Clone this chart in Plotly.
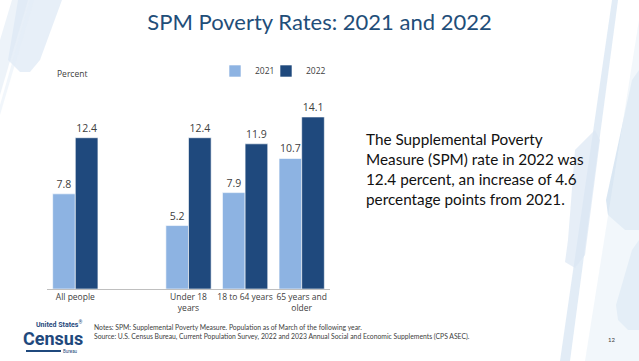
import plotly.graph_objects as go

categories = ["All people", " ", "Under 18<br>years", "18 to 64 years", "65 years and<br>older"]
rates_2021 = [7.8, None, 5.2, 7.9, 10.7]
rates_2022 = [12.4, None, 12.4, 11.9, 14.1]
series_names = ["2021", "2022"]

W, H = 639, 361
L, R, T, B = 47, 309, 100, 72
PW, PH = W - L - R, H - T - B

def px(x):
    return (x - L) / PW

def py(y):
    return 1 - (y - T) / PH

LIGHT = "#8db3e2"
DARK = "#1f497d"
TXT = "#404040"

fig = go.Figure()
for name, vals, col, lg in [(series_names[0], rates_2021, LIGHT, "legend"),
                            (series_names[1], rates_2022, DARK, "legend2")]:
    fig.add_trace(go.Bar(
        x=categories, y=vals, name=name, legend=lg,
        marker=dict(color=col, line=dict(color="white", width=0.6)),
        text=[("" if v is None else f"{v:.1f}") for v in vals],
        textposition="outside", cliponaxis=False,
        textfont=dict(family="Open Sans, Lato, sans-serif", size=10.5, color=TXT),
    ))

shapes = []
def poly(pts, color, opacity):
    d = "M " + " L ".join(f"{px(x):.4f},{py(y):.4f}" for x, y in pts) + " Z"
    shapes.append(dict(type="path", xref="paper", yref="paper", path=d,
                       fillcolor=color, opacity=opacity, line=dict(width=0), layer="below"))

# decorative diagonal bands (background)
poly([(18, 0), (62, 0), (40, 60), (30, 72), (20, 72), (8, 60)], "#c9dcef", 0.45)
poly([(0, 40), (12, 0), (28, 0), (0, 95)], "#dbe7f4", 0.5)
poly([(0, 105), (30, 0), (34, 0), (0, 115)], "#e3edf7", 0.5)
poly([(639, 70), (639, 230), (625, 230), (608, 215), (606, 200), (632, 80)], "#bcd3ea", 0.55)
poly([(639, 240), (639, 330), (628, 330), (618, 320), (616, 305), (632, 250)], "#bcd3ea", 0.5)
poly([(612, 0), (618, 0), (570, 361), (560, 361)], "#dbe7f4", 0.8)
poly([(639, 20), (639, 361), (585, 361)], "#eaf1f9", 0.6)
poly([(575, 150), (595, 130), (600, 140), (585, 255), (575, 268), (565, 262), (568, 240)], "#dbe7f4", 0.7)

annotations = [
    dict(x=px(55), y=py(73), xref="paper", yref="paper", text="Percent", showarrow=False,
         xanchor="left", yanchor="middle", font=dict(family="Open Sans, Lato, sans-serif", size=8.5, color=TXT)),
    dict(x=px(364), y=py(169), xref="paper", yref="paper",
         text="The Supplemental Poverty<br>Measure (SPM) rate in 2022 was<br>12.4 percent, an increase of 4.6<br>percentage points from 2021.",
         showarrow=False, xanchor="left", yanchor="middle", align="left",
         font=dict(family="Lato, Open Sans, sans-serif", size=15.3, color="#111111")),
    dict(x=px(92), y=py(332), xref="paper", yref="paper",
         text="Notes: SPM: Supplemental Poverty Measure. Population as of March of the following year.<br>Source: U.S. Census Bureau, Current Population Survey, 2022 and 2023 Annual Social and Economic Supplements (CPS ASEC).",
         showarrow=False, xanchor="left", yanchor="middle", align="left",
         font=dict(family="Lato, Open Sans, sans-serif", size=6.8, color=TXT)),
    dict(x=px(59), y=py(324), xref="paper", yref="paper", text="<b>United States</b><sup>®</sup>",
         showarrow=False, xanchor="center", yanchor="middle",
         font=dict(family="Liberation Sans Narrow, Roboto, sans-serif", size=7, color=DARK)),
    dict(x=px(53), y=py(338), xref="paper", yref="paper", text="<b>Census</b>",
         showarrow=False, xanchor="center", yanchor="middle",
         font=dict(family="Liberation Sans Narrow, Roboto, sans-serif", size=18, color=DARK)),
    dict(x=px(70), y=py(351), xref="paper", yref="paper", text="Bureau",
         showarrow=False, xanchor="center", yanchor="middle",
         font=dict(family="Roboto, sans-serif", size=4.5, color=DARK)),
    dict(x=px(611), y=py(339), xref="paper", yref="paper", text="12",
         showarrow=False, xanchor="center", yanchor="middle",
         font=dict(family="Lato, sans-serif", size=6, color=TXT)),
]
shapes.append(dict(type="line", xref="paper", yref="paper", x0=px(26), x1=px(61), y0=py(351), y1=py(351),
                   line=dict(color=DARK, width=2)))

legend_style = dict(orientation="h", yanchor="middle", xanchor="left",
                    font=dict(family="Open Sans, Lato, sans-serif", size=8.5, color=TXT),
                    bgcolor="rgba(0,0,0,0)", itemwidth=30)

fig.update_layout(
    width=W, height=H,
    margin=dict(l=L, r=R, t=T, b=B, pad=0),
    paper_bgcolor="white", plot_bgcolor="rgba(0,0,0,0)",
    barmode="group", bargap=0.2, bargroupgap=0,
    title=dict(text="SPM Poverty Rates: 2021 and 2022", x=0.5, xanchor="center",
               y=1 - 22 / H, yanchor="middle",
               font=dict(family="Lato, Open Sans, sans-serif", size=22, color="#1f4e79")),
    xaxis=dict(type="category", categoryorder="array", categoryarray=categories,
               showgrid=False, showline=True, linecolor="#bfbfbf", linewidth=1,
               ticks="", tickfont=dict(family="Open Sans, Lato, sans-serif", size=8.5, color=TXT),
               fixedrange=True),
    yaxis=dict(range=[0, PH / 12.2], visible=False, fixedrange=True),
    legend=dict(x=px(215), y=py(71), **legend_style),
    legend2=dict(x=px(266), y=py(71), **legend_style),
    shapes=shapes, annotations=annotations, showlegend=True,
)

fig.write_html("out.html", config={"displayModeBar": False},
               post_script="document.body.style.margin='0';document.body.style.overflow='hidden';")
